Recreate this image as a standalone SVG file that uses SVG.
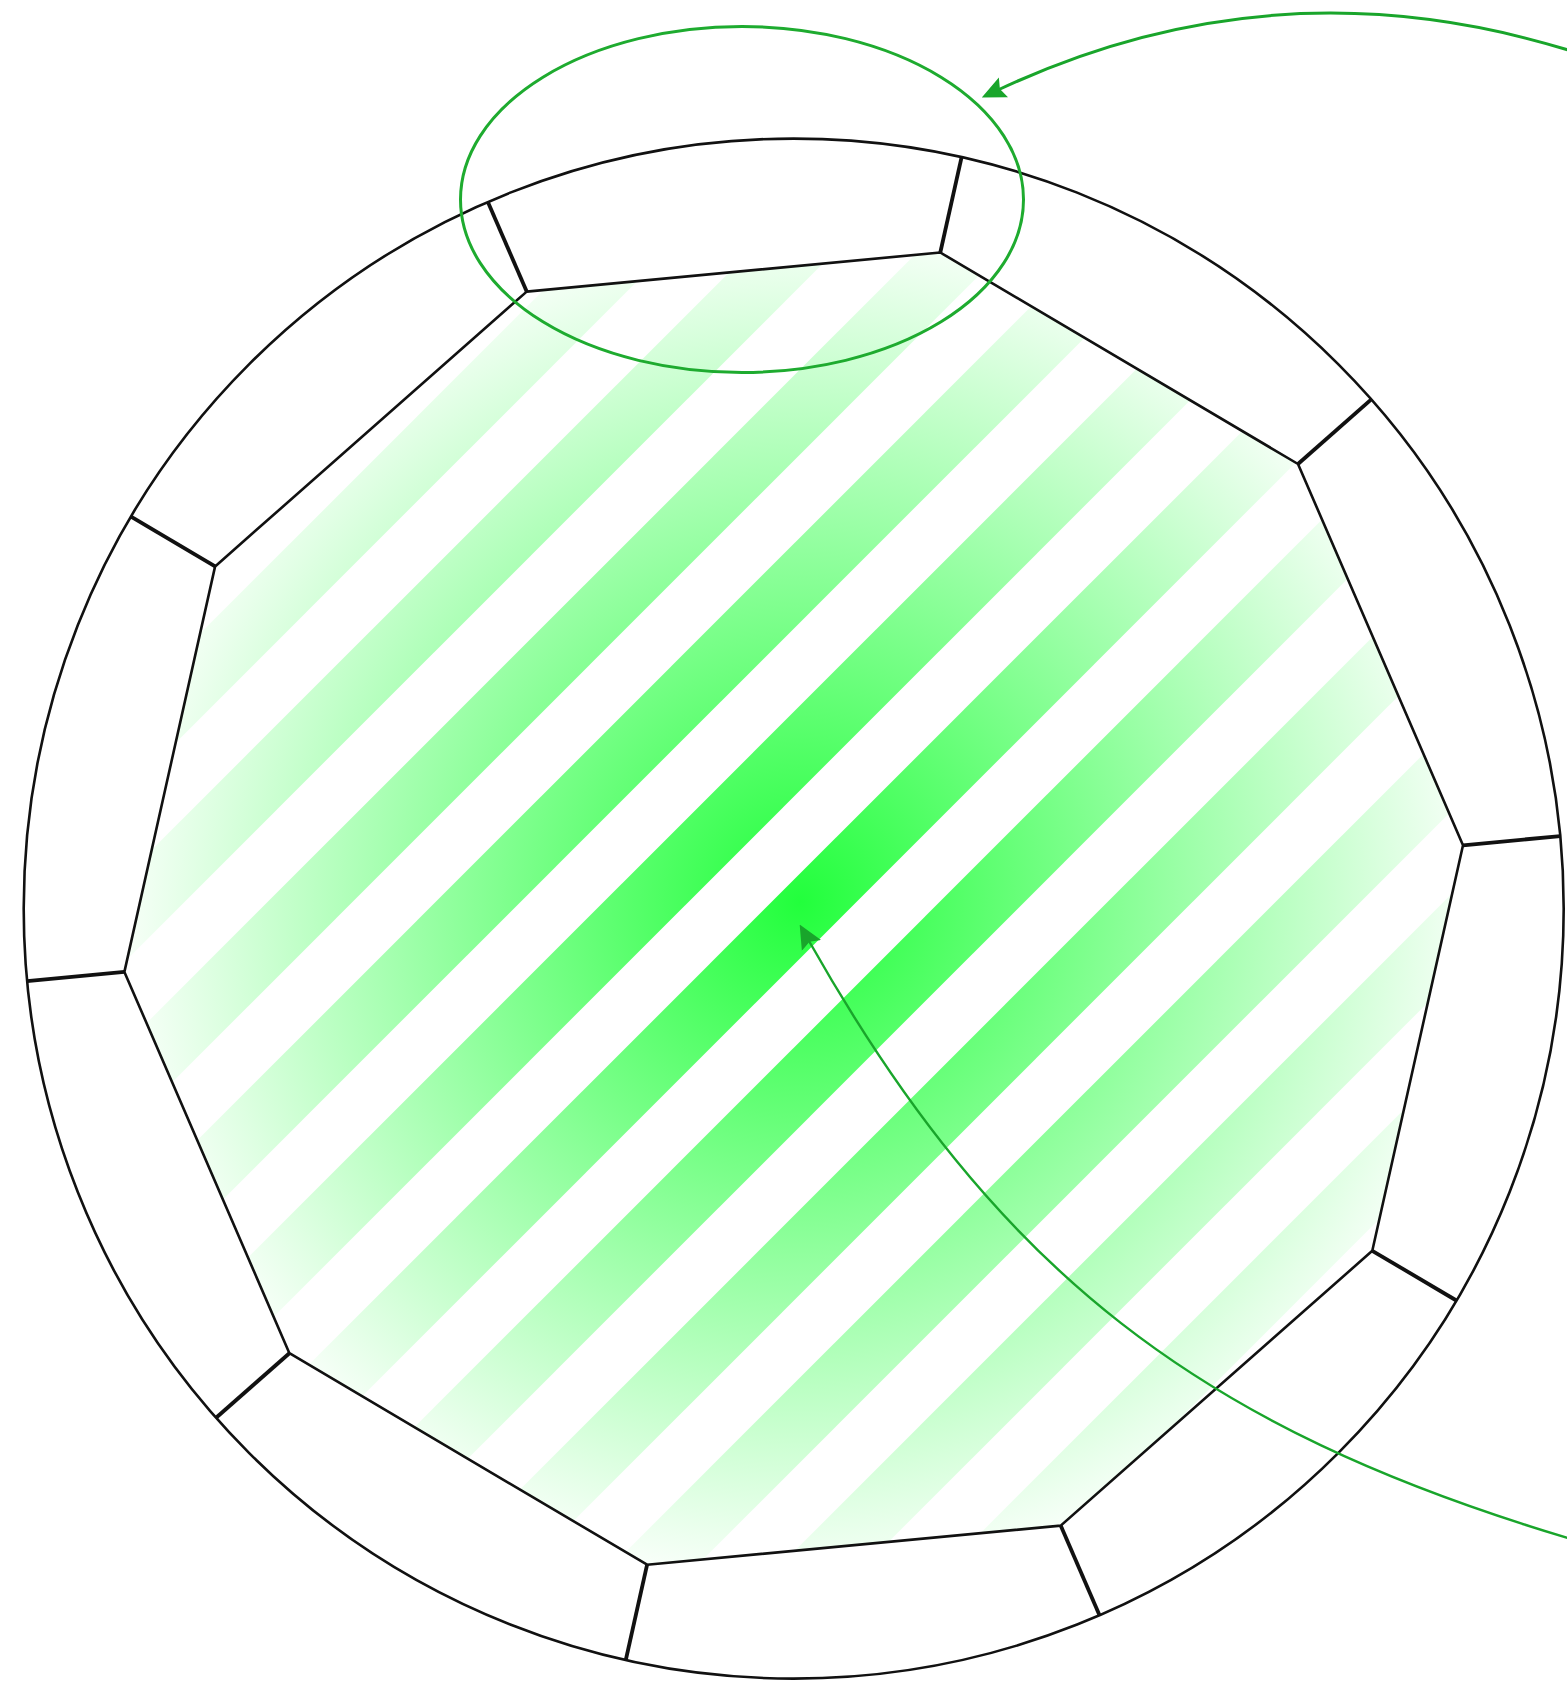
<svg xmlns="http://www.w3.org/2000/svg" width="1567" height="1684" viewBox="0 0 1567 1684">
  <style>
    .outline { fill: none; stroke: #111; stroke-width: 2.6; stroke-linejoin: round; }
    .spoke { stroke: #111; stroke-width: 3.8; stroke-linecap: butt; }
    .stripe { stroke: url(#glow); stroke-width: 60; }
    .hl { fill: none; stroke: #1eab2f; stroke-width: 3; }
    .conn { fill: none; stroke: #19a52b; }
  </style>
  <defs>
    <radialGradient id="glow" gradientUnits="userSpaceOnUse" cx="800" cy="902" r="700">
      <stop offset="0" stop-color="#22ff3c" stop-opacity="1"/>
      <stop offset="0.5" stop-color="#22ff3c" stop-opacity="0.5"/>
      <stop offset="1" stop-color="#22ff3c" stop-opacity="0"/>
    </radialGradient>
    <clipPath id="decagonClip">
      <polygon points="526.7,291.6 940.3,252.5 1298.0,464.0 1463.0,845.3 1372.3,1250.8 1060.7,1525.6 647.1,1564.7 289.4,1353.2 124.4,971.9 215.1,566.4"/>
    </clipPath>
    <marker id="arrow" viewBox="0 0 24 24" refX="5" refY="12" markerWidth="24" markerHeight="24" markerUnits="userSpaceOnUse" orient="auto">
      <path d="M24,12 L0,1 L4,12 L0,23 z" fill="#19a52b"/>
    </marker>
  </defs>

  <rect x="0" y="0" width="1567" height="1684" fill="#ffffff"/>

  <g id="ring">
    <circle class="outline" cx="793.7" cy="908.6" r="770"/>
    <g id="stripes" clip-path="url(#decagonClip)">
      <line class="stripe" x1="-992" y1="1700" x2="808" y2="-100"/>
      <line class="stripe" x1="-824" y1="1700" x2="976" y2="-100"/>
      <line class="stripe" x1="-656" y1="1700" x2="1144" y2="-100"/>
      <line class="stripe" x1="-488" y1="1700" x2="1312" y2="-100"/>
      <line class="stripe" x1="-320" y1="1700" x2="1480" y2="-100"/>
      <line class="stripe" x1="-152" y1="1700" x2="1648" y2="-100"/>
      <line class="stripe" x1="16" y1="1700" x2="1816" y2="-100"/>
      <line class="stripe" x1="184" y1="1700" x2="1984" y2="-100"/>
      <line class="stripe" x1="352" y1="1700" x2="2152" y2="-100"/>
      <line class="stripe" x1="520" y1="1700" x2="2320" y2="-100"/>
      <line class="stripe" x1="688" y1="1700" x2="2488" y2="-100"/>
      <line class="stripe" x1="856" y1="1700" x2="2656" y2="-100"/>
      <line class="stripe" x1="1024" y1="1700" x2="2824" y2="-100"/>
    </g>
    <polygon id="decagon" class="outline" points="526.7,291.6 940.3,252.5 1298.0,464.0 1463.0,845.3 1372.3,1250.8 1060.7,1525.6 647.1,1564.7 289.4,1353.2 124.4,971.9 215.1,566.4"/>
    <g id="spokes">
      <line class="spoke" x1="526.7" y1="291.6" x2="487.9" y2="201.9"/>
      <line class="spoke" x1="940.3" y1="252.5" x2="961.6" y2="157.2"/>
      <line class="spoke" x1="1298.0" y1="464.0" x2="1371.3" y2="399.4"/>
      <line class="spoke" x1="1463.0" y1="845.3" x2="1560.3" y2="836.1"/>
      <line class="spoke" x1="1372.3" y1="1250.8" x2="1456.4" y2="1300.5"/>
      <line class="spoke" x1="1060.7" y1="1525.6" x2="1099.5" y2="1615.3"/>
      <line class="spoke" x1="647.1" y1="1564.7" x2="625.8" y2="1660.0"/>
      <line class="spoke" x1="289.4" y1="1353.2" x2="216.1" y2="1417.8"/>
      <line class="spoke" x1="124.4" y1="971.9" x2="27.1" y2="981.1"/>
      <line class="spoke" x1="215.1" y1="566.4" x2="131.0" y2="516.7"/>
    </g>
  </g>

  <g id="highlight">
    <ellipse class="hl" cx="742" cy="199.5" rx="281.5" ry="173"/>
  </g>

  <g id="connectors">
    <path class="conn" stroke-width="3" d="M1568,50 Q1275,-40 999,89.5" marker-end="url(#arrow)"/>
    <path class="conn" stroke-width="2.4" d="M1568,1538 C1200,1428 997,1274 809,941" marker-end="url(#arrow)"/>
  </g>
</svg>
